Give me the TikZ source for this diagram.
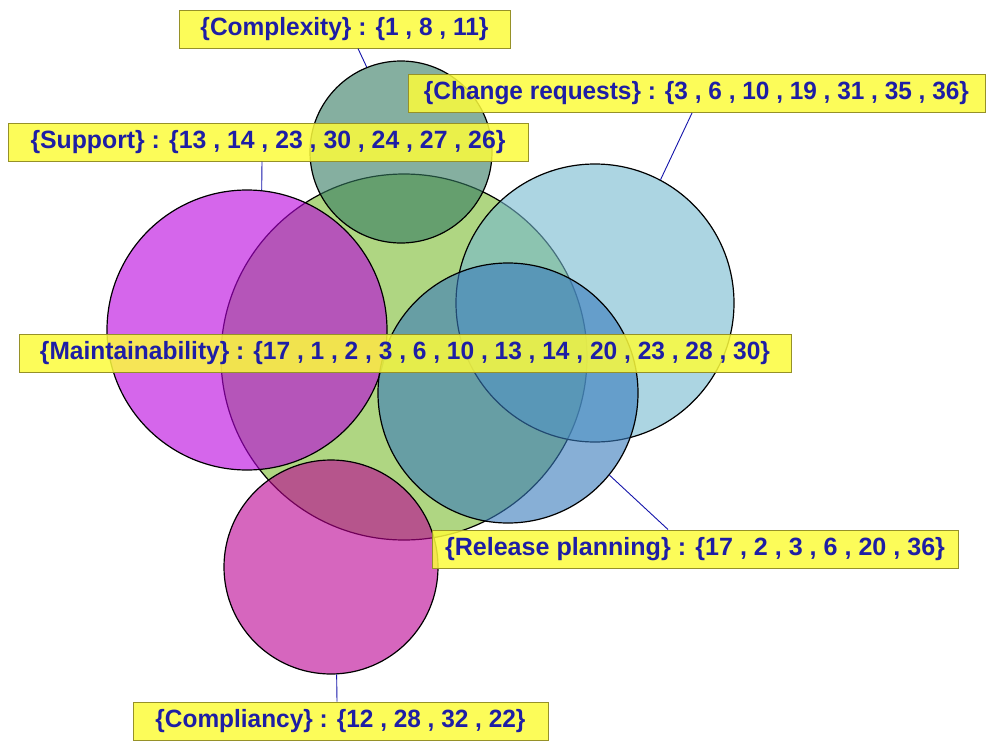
\documentclass[tikz,border=0pt]{standalone}
\usepackage{fontspec}
\setmainfont{Liberation Sans}
\definecolor{cMaint}{RGB}{123,188,47}
\definecolor{cComplex}{RGB}{53,123,97}
\definecolor{cChange}{RGB}{117,185,207}
\definecolor{cSupport}{RGB}{185,0,223}
\definecolor{cRelease}{RGB}{55,122,188}
\definecolor{cComply}{RGB}{188,0,147}
\definecolor{labfill}{RGB}{252,252,60}
\definecolor{labedge}{RGB}{150,145,40}
\definecolor{labtext}{RGB}{30,30,165}
\definecolor{linkblue}{RGB}{20,20,170}
\begin{document}
\begin{tikzpicture}[x=1pt,y=-1pt,
  setdisc/.style={circle, draw=black, line width=1.2pt, fill=#1,
    fill opacity=0.6, draw opacity=1, inner sep=0pt},
  setlabel/.style={draw=labedge, line width=1pt, fill=labfill,
    fill opacity=0.85, text opacity=1, text=labtext, inner sep=0pt,
    minimum height=38pt, font=\bfseries\fontsize{25}{25}\selectfont},
  link/.style={draw=linkblue, line width=0.9pt}]
\fill[white] (0,0) rectangle (986,742);
\useasboundingbox (0,0) rectangle (986,742);

% set discs, largest first
\node[setdisc=cMaint,   minimum size=366pt] (cm)  at (404,357) {};
\node[setdisc=cComplex, minimum size=182pt] (cx)  at (401,152) {};
\node[setdisc=cChange,  minimum size=278pt] (cr)  at (595,303) {};
\node[setdisc=cSupport, minimum size=280pt] (cs)  at (247,330) {};
\node[setdisc=cRelease, minimum size=260pt] (crp) at (508,393) {};
\node[setdisc=cComply,  minimum size=214pt] (cc)  at (331,567) {};

% set labels
\node[setlabel, minimum width=331pt] (lx) at (344.5,29)
  {\resizebox{288pt}{\height}{\{Complexity\} : \{1 , 8 , 11\}}};
\node[setlabel, minimum width=577pt] (lr) at (696.5,93.5)
  {\resizebox{545pt}{\height}{\{Change requests\} : \{3 , 6 , 10 , 19 , 31 , 35 , 36\}}};
\node[setlabel, minimum width=520pt] (ls) at (268,142)
  {\resizebox{475pt}{\height}{\{Support\} : \{13 , 14 , 23 , 30 , 24 , 27 , 26\}}};
\node[setlabel, minimum width=772pt] (lm) at (405,353)
  {\resizebox{730pt}{\height}{\{Maintainability\} : \{17 , 1 , 2 , 3 , 6 , 10 , 13 , 14 , 20 , 23 , 28 , 30\}}};
\node[setlabel, minimum width=526pt] (lrp) at (695,549)
  {\resizebox{500pt}{\height}{\{Release planning\} : \{17 , 2 , 3 , 6 , 20 , 36\}}};
\node[setlabel, minimum width=415pt] (lc) at (340.5,721)
  {\resizebox{370pt}{\height}{\{Compliancy\} : \{12 , 28 , 32 , 22\}}};

% leader lines from labels to discs
\draw[link] ([xshift=13.5pt]lx.south) -- (cx.112);
\draw[link] ([xshift=-4.5pt]lr.south) -- (cr.62);
\draw[link] ([xshift=-6pt]ls.south) -- (cs.84);
\draw[link] ([xshift=-27pt]lrp.north) -- (crp.-39.5);
\draw[link] ([xshift=-3.5pt]lc.north) -- (cc.-87);
\end{tikzpicture}
\end{document}
